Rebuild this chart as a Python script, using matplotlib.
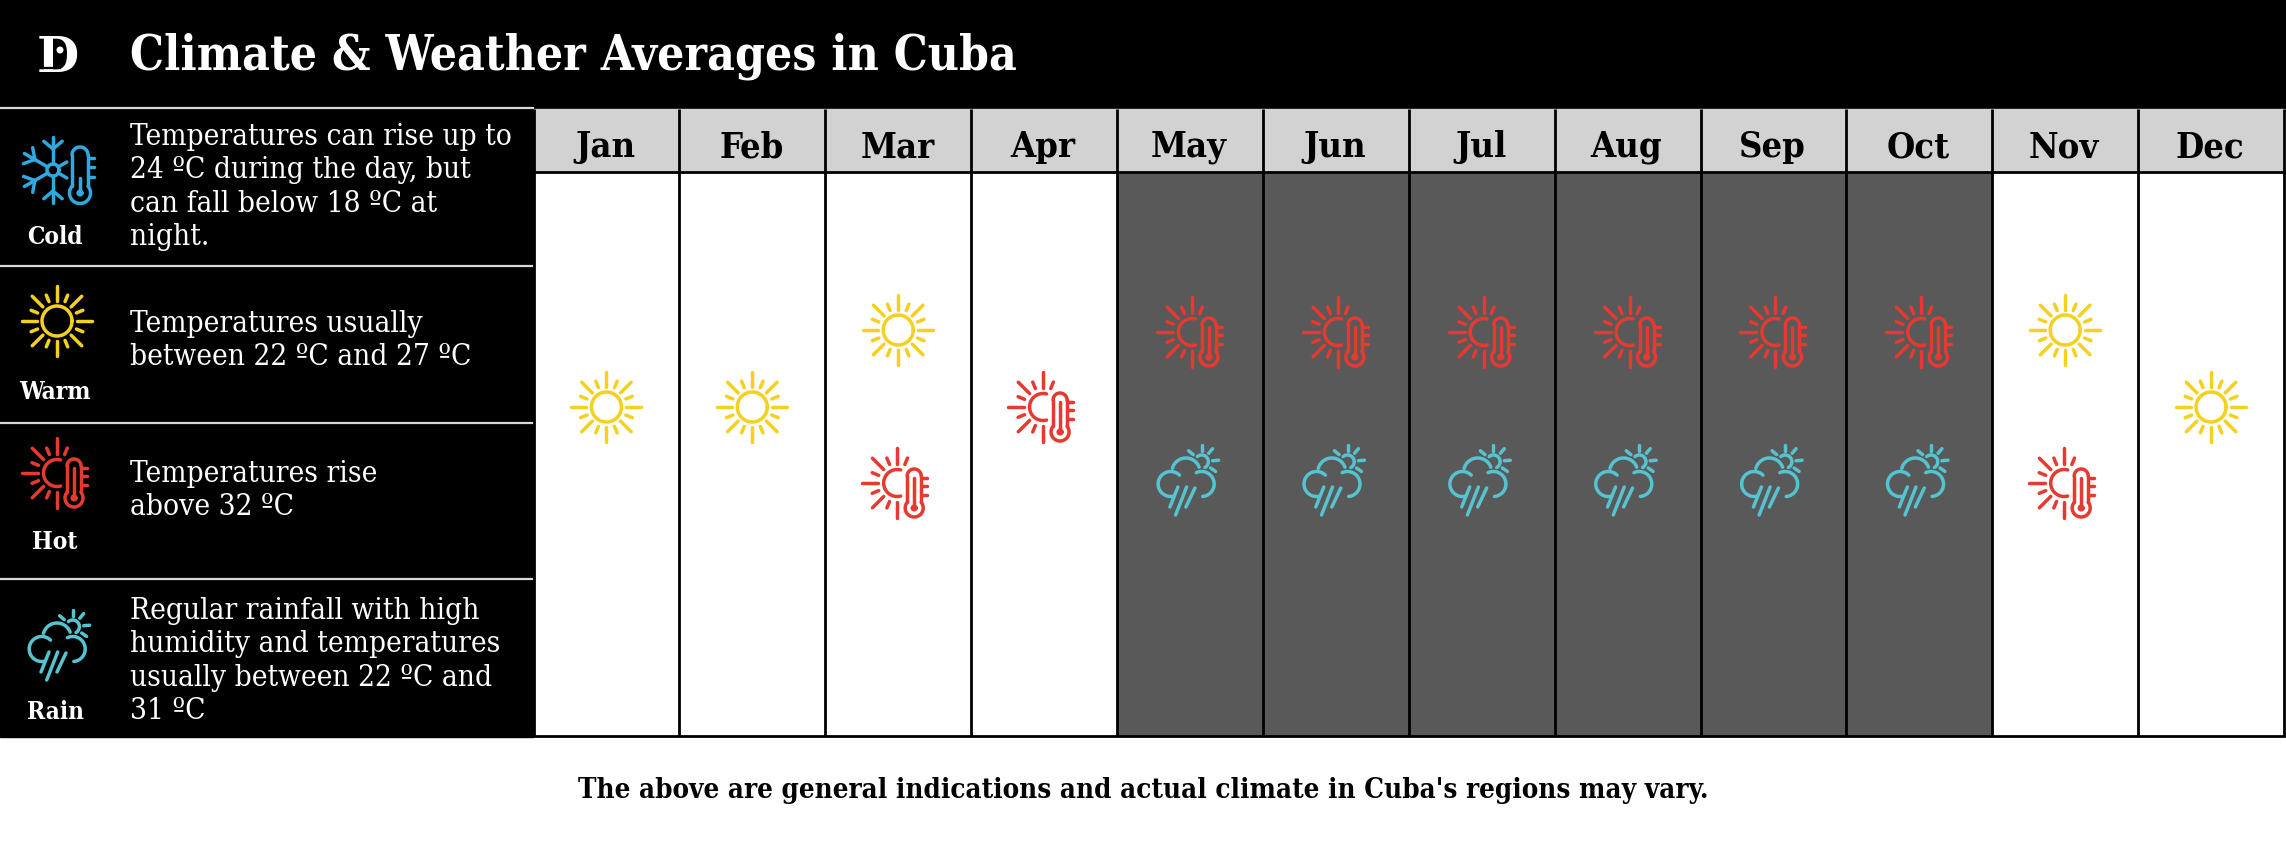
import numpy as np
import matplotlib
matplotlib.use('Agg')
import matplotlib.pyplot as plt
from matplotlib.patches import Rectangle, Circle

# data
months = ['Jan', 'Feb', 'Mar', 'Apr', 'May', 'Jun', 'Jul', 'Aug', 'Sep', 'Oct', 'Nov', 'Dec']
month_icons = [['warm'], ['warm'], ['warm', 'hot'], ['hot'],
               ['hot', 'rain'], ['hot', 'rain'], ['hot', 'rain'], ['hot', 'rain'], ['hot', 'rain'], ['hot', 'rain'],
               ['warm', 'hot'], ['warm']]
rainy_months = ['May', 'Jun', 'Jul', 'Aug', 'Sep', 'Oct']
legend_names = ['Cold', 'Warm', 'Hot', 'Rain']
legend_text = [
    ['Temperatures can rise up to', '24 ºC during the day, but', 'can fall below 18 ºC at', 'night.'],
    ['Temperatures usually', 'between 22 ºC and 27 ºC'],
    ['Temperatures rise', 'above 32 ºC'],
    ['Regular rainfall with high', 'humidity and temperatures', 'usually between 22 ºC and', '31 ºC'],
]
title = 'Climate & Weather Averages in Cuba'
footer = "The above are general indications and actual climate in Cuba's regions may vary."

SERIF = 'DejaVu Serif'
COLORS = {'cold': '#2fa9e0', 'warm': '#f6d01e', 'hot': '#e63a30', 'rain': '#55c3d0'}
LW = 2.5

W, H = 2286, 844
fig = plt.figure(figsize=(W / 100, H / 100), dpi=100, facecolor='white')
ax = fig.add_axes([0, 0, 1, 1])
ax.set_xlim(0, W)
ax.set_ylim(H, 0)
ax.axis('off')


def seg(x0, y0, x1, y1, color, lw=LW):
    ax.plot([x0, x1], [y0, y1], color=color, lw=lw, solid_capstyle='round', zorder=5)


def arc(cx, cy, r, a0, a1, color, lw=LW):
    t = np.radians(np.linspace(a0, a1, 60))
    ax.plot(cx + r * np.cos(t), cy - r * np.sin(t), color=color, lw=lw, solid_capstyle='round', zorder=5)


def rays(cx, cy, angles, r0, r1, color, lw=LW):
    for a in angles:
        t = np.radians(a)
        seg(cx + r0 * np.cos(t), cy - r0 * np.sin(t), cx + r1 * np.cos(t), cy - r1 * np.sin(t), color, lw)


def thermometer(cx, top, bulb, rt, rb, merc, color, ticks):
    join = bulb - np.sqrt(rb ** 2 - rt ** 2)
    seg(cx - rt, join, cx - rt, top, color)
    arc(cx, top, rt, 0, 180, color)
    seg(cx + rt, top, cx + rt, join, color)
    a = np.degrees(np.arcsin(rt / rb))
    arc(cx, bulb, rb, 90 - a, -270 + a, color)
    seg(cx, bulb, cx, merc, color)
    arc(cx, bulb, 1.5, 0, 360, color, lw=LW * 1.2)
    for ty in ticks:
        seg(cx + rt + 1, ty, cx + rt + 6, ty, color)


def sun(cx, cy, color):
    arc(cx, cy, 15, 0, 360, color)
    rays(cx, cy, range(0, 360, 45), 20, 35, color)
    rays(cx, cy, np.arange(22.5, 360, 45), 21, 28, color)


def hot(cx, cy, color):
    arc(cx, cy, 13.5, 75, 285, color)
    rays(cx, cy, [90, 135, 180, 225, 270], 19, 35, color)
    rays(cx, cy, [67.5, 112.5, 157.5, 202.5, 247.5], 20, 27, color)
    thermometer(cx + 17, cy - 7, cy + 25, 7, 9, cy - 5, color, [cy - 5, cy + 3, cy + 12])


def rain(cx, cy, color):
    arc(cx + 14.7, cy - 21.3, 6.7, -60, 130, color)
    rays(cx + 14.7, cy - 21.3, [90, 50, 5, -35, 140], 11, 17, color)
    arc(cx - 16.3, cy + 1, 12.5, 45, 285, color)
    arc(cx - 1, cy - 11, 14, 20, 165, color)
    arc(cx + 14.7, cy + 1, 12.5, 115, -85, color)
    seg(cx - 9, cy + 4, cx - 17, cy + 24, color)
    seg(cx - 0.3, cy + 4, cx - 11.3, cy + 32, color)
    seg(cx + 8, cy + 5, cx - 1, cy + 24, color)


def cold(cx, cy, color):
    arc(cx, cy, 6, 0, 360, color)
    for a in [90, 150, 210, 270]:
        t = np.radians(a)
        rays(cx, cy, [a], 6, 33, color)
        bx, by = cx + 21 * np.cos(t), cy - 21 * np.sin(t)
        rays(bx, by, [a - 50, a + 50], 0, 12, color)
    rays(cx, cy, [30, -30], 6, 16, color)
    thermometer(cx + 27, cy - 15, cy + 23, 8, 10.5, cy + 8, color, [cy - 12, cy - 3, cy + 7])


ICON_FUNCS = {'cold': cold, 'warm': sun, 'hot': hot, 'rain': rain}

# black title band and legend panel
ax.add_patch(Rectangle((0, 0), W, 108, color='black', zorder=1))
ax.add_patch(Rectangle((0, 108), 533, 629, color='black', zorder=1))
ax.text(130, 70, title, color='white', fontsize=34.3, fontweight='bold', family=SERIF, stretch='condensed',
        ha='left', va='baseline', zorder=6)

# logo
ax.text(58, 59, 'D', color='white', fontsize=35, fontweight='bold', family=SERIF, ha='center', va='center', zorder=6)
ax.plot([44, 60], [68, 68], color='black', lw=1.6, zorder=7)
ax.add_patch(Circle((60, 50), 2.8, color='white', zorder=7))

# legend rows
row_edges = [108, 266, 423, 579, 737]
icon_y = [170, 321, 473, 648]
name_y = [244, 399, 549, 719]
line_y = [[145, 178, 212, 245], [332, 365], [482, 515], [619, 652, 686, 719]]
icon_x = [53, 57, 57, 58]
for i, name in enumerate(legend_names):
    ICON_FUNCS[name.lower()](icon_x[i], icon_y[i], COLORS[name.lower()])
    ax.text(55, name_y[i], name, color='white', fontsize=17.6, fontweight='bold', family=SERIF, stretch='condensed',
            ha='center', va='baseline', zorder=6)
    for txt, y in zip(legend_text[i], line_y[i]):
        ax.text(130, y, txt, color='white', fontsize=21.3, family=SERIF, stretch='condensed',
                ha='left', va='baseline', zorder=6)
for y in row_edges[:-1]:
    ax.plot([0, 533], [y, y], color='#d8d8d8', lw=1.6, zorder=3)

# month columns
col_edges = np.linspace(533.5, 2284, len(months) + 1)
head_top, head_bot, grid_bot = 109, 172, 736
slot_y = {1: [407], 2: [330, 483]}
for i, m in enumerate(months):
    x0, x1 = col_edges[i], col_edges[i + 1]
    xc = (x0 + x1) / 2
    ax.add_patch(Rectangle((x0, head_top), x1 - x0, head_bot - head_top, color='#d2d2d2', zorder=1))
    if m in rainy_months:
        ax.add_patch(Rectangle((x0, head_bot), x1 - x0, grid_bot - head_bot, color='#595959', zorder=1))
    ax.text(xc - 1, 157, m, color='black', fontsize=26, fontweight='bold', family=SERIF, stretch='condensed',
            ha='center', va='baseline', zorder=6)
    for name, y in zip(month_icons[i], slot_y[len(month_icons[i])]):
        dx = {'warm': 0, 'hot': 2 if m in rainy_months else -1, 'rain': -3}[name]
        dy = 2 if (name == 'hot' and y == 330) else 0
        ICON_FUNCS[name](xc + dx, y + dy, COLORS[name])

for x in col_edges:
    ax.plot([x, x], [head_top, grid_bot], color='black', lw=2.0, zorder=3, solid_capstyle='butt')
ax.plot([col_edges[0], col_edges[-1]], [head_bot, head_bot], color='black', lw=2.0, zorder=3)
ax.plot([col_edges[0], col_edges[-1]], [grid_bot, grid_bot], color='black', lw=2.0, zorder=3)

ax.text(1143, 798, footer, color='black', fontsize=19.9, fontweight='bold', family=SERIF, stretch='condensed',
        ha='center', va='baseline', zorder=6)

fig.savefig('out.png', dpi=100, facecolor='white')
